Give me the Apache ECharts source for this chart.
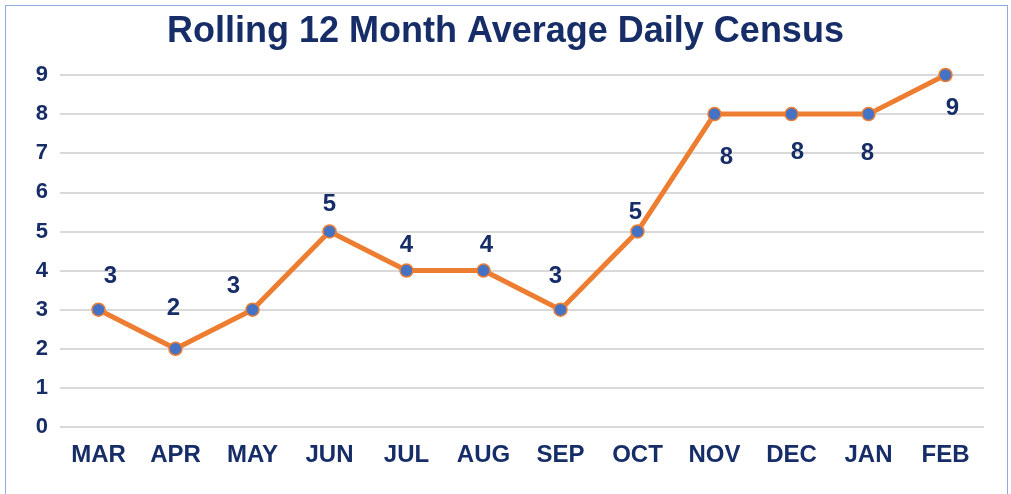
<!DOCTYPE html>
<html>
<head>
<meta charset="utf-8">
<script src="https://cdn.jsdelivr.net/npm/echarts@6/dist/echarts.min.js"></script>
<style>
    html, body { margin: 0; padding: 0; background: #fff; }
    #frame {
        position: absolute; left: 5px; top: 5px; width: 1003px; height: 500px;
        border: 1px solid #8faadc; box-sizing: border-box;
    }
    #chart { position: absolute; left: 0; top: 0; width: 1011px; height: 494px; }
</style>
</head>
<body>
<div id="frame"></div>
<div id="chart"></div>
<script>
const months = ["MAR", "APR", "MAY", "JUN", "JUL", "AUG", "SEP", "OCT", "NOV", "DEC", "JAN", "FEB"];
const census = [3, 2, 3, 5, 4, 4, 3, 5, 8, 8, 8, 9];
const yTicks = [0, 1, 2, 3, 4, 5, 6, 7, 8, 9];

// where each value label sits relative to its point (px)
const labelOffsets = [
    [12, -33], [-2, -40], [-19, -23], [0, -27], [0, -25], [3, -25],
    [-5, -33], [-2, -19], [12, 43], [6, 38], [-1, 39], [7, 33],
];

const navy = "#162d68";
const font = "'Liberation Sans', Arial, sans-serif";

const chart = echarts.init(document.getElementById("chart"));
chart.setOption({
    animation: false,
    title: {
        text: "Rolling 12 Month Average Daily Census",
        left: "center",
        top: 9,
        textStyle: { color: navy, fontSize: 36, fontWeight: "bold", fontFamily: font },
    },
    grid: { left: 60, right: 27, top: 75, bottom: 67 },
    xAxis: {
        type: "category",
        data: months,
        boundaryGap: true,
        axisLine: { show: false },
        axisTick: { show: false },
        axisLabel: { color: navy, fontSize: 24, fontWeight: "bold", fontFamily: font, margin: 16 },
    },
    yAxis: {
        type: "value",
        min: yTicks[0],
        max: yTicks[yTicks.length - 1],
        interval: 1,
        axisLine: { show: false },
        axisTick: { show: false },
        axisLabel: { color: navy, fontSize: 22, fontWeight: "bold", fontFamily: font, margin: 12 },
        splitLine: { lineStyle: { color: "#d9d9d9", width: 2 } },
    },
    series: [
        {
            type: "line",
            data: census.map((v, i) => ({
                value: v,
                label: { offset: labelOffsets[i] },
            })),
            symbol: "circle",
            symbolSize: 13,
            lineStyle: { color: "#ed7d31", width: 5 },
            itemStyle: { color: "#4472c4", borderColor: "#ed7d31", borderWidth: 1.5 },
            label: {
                show: true,
                position: "inside",
                color: navy,
                fontSize: 24,
                fontWeight: "bold",
                fontFamily: font,
            },
            z: 3,
        },
    ],
});
</script>
</body>
</html>
